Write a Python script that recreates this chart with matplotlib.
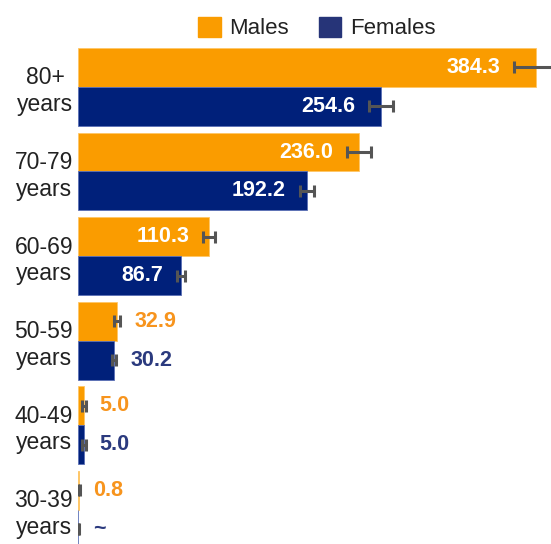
import numpy as np
import matplotlib.pyplot as plt
from matplotlib.patches import Patch

plt.rcParams['font.family'] = ['Liberation Sans', 'DejaVu Sans']

# age groups, oldest first (top of the chart)
age_groups = ['80+\nyears', '70-79\nyears', '60-69\nyears', '50-59\nyears', '40-49\nyears', '30-39\nyears']
males = [384.3, 236.0, 110.3, 32.9, 5.0, 0.8]
females = [254.6, 192.2, 86.7, 30.2, 5.0, 0.3]
male_err = [18.5, 10.0, 5.0, 2.5, 1.5, 0.5]
female_err = [10.0, 6.0, 3.5, 2.0, 1.5, 0.5]
male_labels = ['384.3', '236.0', '110.3', '32.9', '5.0', '0.8']
female_labels = ['254.6', '192.2', '86.7', '30.2', '5.0', '~']

orange = '#FA9C00'
navy = '#00207A'
orange_txt = '#F7941D'
navy_txt = '#2B3A7E'
err_col = '#555555'

W, H = 551, 544
fig = plt.figure(figsize=(W / 100, H / 100), dpi=100)
ax = fig.add_axes([78 / W, 0, (W - 78) / W, 1])

y = np.arange(len(age_groups))
h = 0.46

ax.barh(y - h / 2, males, height=h, color=orange, edgecolor='#FFC766', linewidth=0.6)
ax.barh(y + h / 2, females, height=h, color=navy, edgecolor='#5A6FB5', linewidth=0.6)
ax.errorbar(males, y - h / 2, xerr=male_err, fmt='none', ecolor=err_col,
            elinewidth=2.2, capsize=4.5, capthick=2.2)
ax.errorbar(females, y + h / 2, xerr=female_err, fmt='none', ecolor=err_col,
            elinewidth=2.2, capsize=4.5, capthick=2.2)


def put_label(val, err, yy, txt, col):
    if val > 60:
        ax.annotate(txt, (val - err, yy), xytext=(-10, 0), textcoords='offset points',
                    ha='right', va='center', color='white', fontsize=15.5, fontweight='bold')
    else:
        ax.annotate(txt, (val + err, yy), xytext=(10, 0), textcoords='offset points',
                    ha='left', va='center', color=col, fontsize=15.5, fontweight='bold')


for i in range(len(age_groups)):
    put_label(males[i], male_err[i], y[i] - h / 2, male_labels[i], orange_txt)
    put_label(females[i], female_err[i], y[i] + h / 2, female_labels[i], navy_txt)

ax.set_xlim(0, 397)
ax.set_ylim(5.403, -1.027)
ax.set_yticks(y)
ax.set_yticklabels(age_groups, fontsize=16.5, color='#222222')
for t in ax.get_yticklabels():
    t.set_multialignment('center')
ax.tick_params(axis='y', length=0, pad=3.5)
ax.set_xticks([])
for s in ax.spines.values():
    s.set_visible(False)

handles = [Patch(color=orange, label='Males'), Patch(color='#263478', label='Females')]
fig.legend(handles=handles, loc='upper center', bbox_to_anchor=(317 / W, 1.006), ncol=2,
           frameon=False, fontsize=16, handlelength=1.0, handleheight=1.0,
           handletextpad=0.4, columnspacing=1.35, labelcolor='#222222')

fig.savefig('out.png', dpi=100)
